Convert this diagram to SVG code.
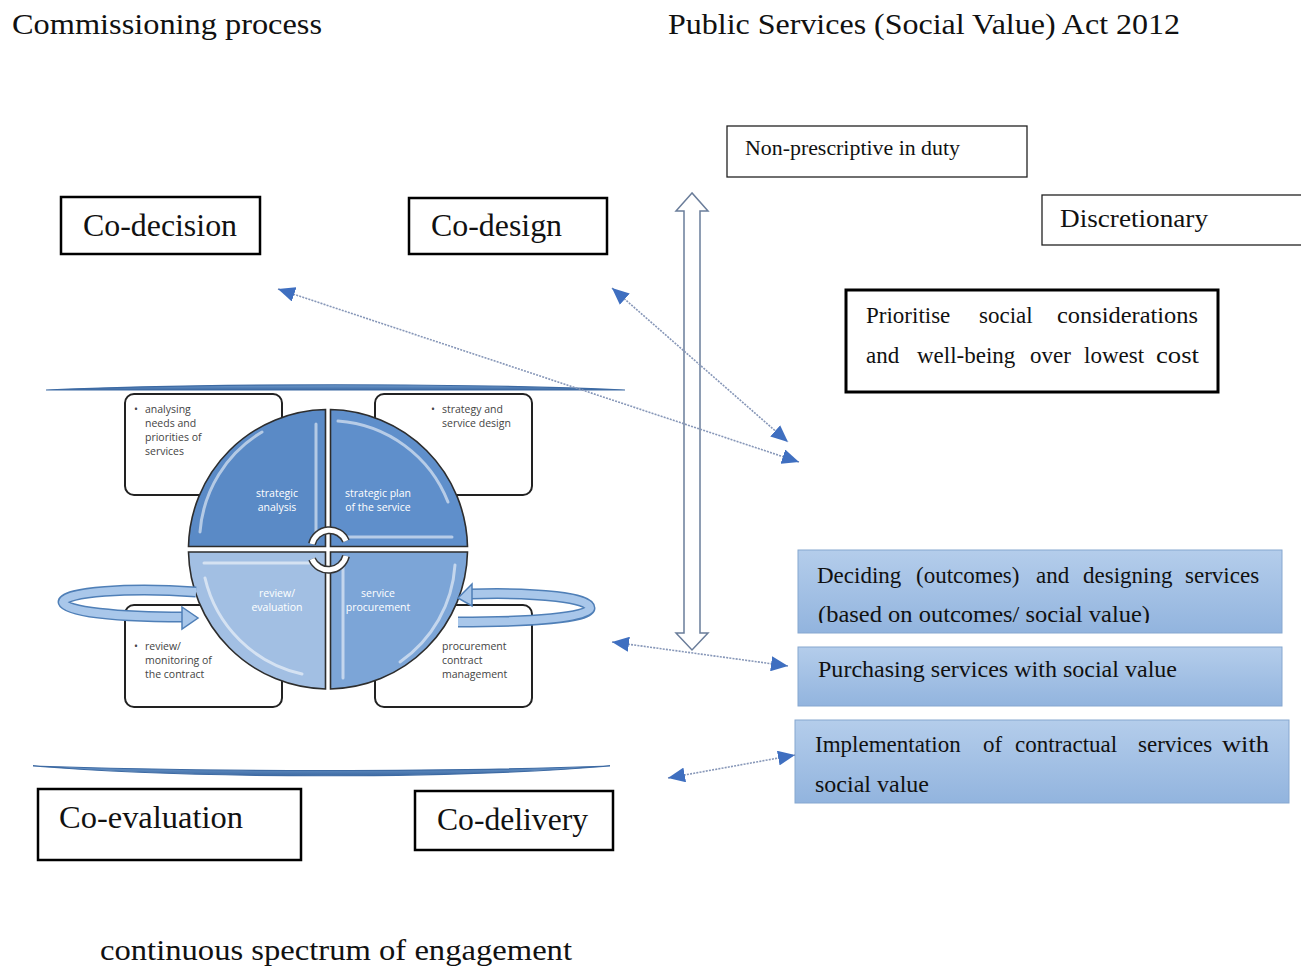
<svg xmlns="http://www.w3.org/2000/svg" width="1301" height="969" viewBox="0 0 1301 969">
<defs>
<style>
.serif{font-family:"Liberation Serif","Times New Roman",serif;fill:#111}
.small{font-family:"Open Sans","Liberation Sans",sans-serif;font-size:10.5px;fill:#444}
.qt{font-family:"Open Sans","Liberation Sans",sans-serif;font-size:10.5px;fill:#fff;text-anchor:middle}
.box{fill:#fff;stroke:#000;stroke-width:2.5}
.thin{fill:#fff;stroke:#222;stroke-width:1.3}
.rbox{fill:#fff;stroke:#222;stroke-width:2}
.blue{fill:url(#bg);stroke:#86a7d0;stroke-width:1}
.dot{fill:none;stroke:#8797b8;stroke-width:1.6;stroke-dasharray:2 1.2;marker-start:url(#ah);marker-end:url(#ah)}
.quad{stroke:#2d2d2d;stroke-width:1.6}
.hl{fill:none;stroke:#fff;stroke-opacity:0.55;stroke-width:3;stroke-linecap:round}
.rib{fill:none;stroke:#4f7fb7;stroke-width:11}
.ribin{fill:none;stroke:#a9c7ea;stroke-width:8}
</style>
<linearGradient id="bg" x1="0" y1="0" x2="0" y2="1">
<stop offset="0" stop-color="#b4cdeb"/>
<stop offset="1" stop-color="#92b4de"/>
</linearGradient>
<linearGradient id="lineg" x1="0" y1="0" x2="0" y2="1">
<stop offset="0" stop-color="#6f9bcd"/>
<stop offset="1" stop-color="#3d6aa3"/>
</linearGradient>
<marker id="ah" markerUnits="userSpaceOnUse" markerWidth="17" markerHeight="15" refX="17" refY="7.5" orient="auto-start-reverse">
<path d="M0,0 L17,7.5 L0,15 z" fill="#3f6fc0"/>
</marker>
<clipPath id="clipDec"><rect x="798" y="550" width="484" height="73"/></clipPath>
</defs>

<rect width="1301" height="969" fill="#fff"/>

<g id="titles">
<text class="serif" x="12" y="34" font-size="30" textLength="310" lengthAdjust="spacingAndGlyphs">Commissioning process</text>
<text class="serif" x="668" y="34" font-size="30" textLength="512" lengthAdjust="spacingAndGlyphs">Public Services (Social Value) Act 2012</text>
<text class="serif" x="100" y="960" font-size="30" textLength="472" lengthAdjust="spacingAndGlyphs">continuous spectrum of engagement</text>
</g>

<g id="co-decision">
<rect class="box" x="61" y="197" width="199" height="57"/>
<text class="serif" x="83" y="236" font-size="31" textLength="154" lengthAdjust="spacingAndGlyphs">Co-decision</text>
</g>
<g id="co-design">
<rect class="box" x="409" y="198" width="198" height="56"/>
<text class="serif" x="431" y="236" font-size="31" textLength="131" lengthAdjust="spacingAndGlyphs">Co-design</text>
</g>
<g id="co-evaluation">
<rect class="box" x="38" y="789" width="263" height="71"/>
<text class="serif" x="59" y="828" font-size="31" textLength="184" lengthAdjust="spacingAndGlyphs">Co-evaluation</text>
</g>
<g id="co-delivery">
<rect class="box" x="415" y="791" width="198" height="59"/>
<text class="serif" x="437" y="830" font-size="31" textLength="151" lengthAdjust="spacingAndGlyphs">Co-delivery</text>
</g>

<g id="non-prescriptive">
<rect class="thin" x="727" y="126" width="300" height="51"/>
<text class="serif" x="745" y="155" font-size="21" textLength="215" lengthAdjust="spacingAndGlyphs">Non-prescriptive in duty</text>
</g>
<g id="discretionary">
<rect class="thin" x="1042" y="195" width="262" height="50"/>
<text class="serif" x="1060" y="227" font-size="26" textLength="148" lengthAdjust="spacingAndGlyphs">Discretionary</text>
</g>
<g id="prioritise">
<rect x="846" y="290" width="372" height="102" fill="#fff" stroke="#000" stroke-width="3"/>
<text class="serif" y="323" font-size="23"><tspan x="866">Prioritise</tspan><tspan x="979">social</tspan><tspan x="1057" textLength="141" lengthAdjust="spacingAndGlyphs">considerations</tspan></text>
<text class="serif" y="363" font-size="23"><tspan x="866">and</tspan><tspan x="917">well-being</tspan><tspan x="1030">over</tspan><tspan x="1084">lowest</tspan><tspan x="1156" textLength="43" lengthAdjust="spacingAndGlyphs">cost</tspan></text>
</g>

<g id="deciding">
<rect class="blue" x="798" y="550" width="484" height="83"/>
<g clip-path="url(#clipDec)">
<text class="serif" y="583" font-size="23"><tspan x="817">Deciding</tspan><tspan x="916">(outcomes)</tspan><tspan x="1036">and</tspan><tspan x="1083">designing</tspan><tspan x="1185">services</tspan></text>
<text class="serif" x="818" y="622" font-size="23" textLength="332" lengthAdjust="spacingAndGlyphs">(based on outcomes/ social value)</text>
</g>
</g>
<g id="purchasing">
<rect class="blue" x="798" y="647" width="484" height="59"/>
<text class="serif" x="818" y="677" font-size="23" textLength="359" lengthAdjust="spacingAndGlyphs">Purchasing services with social value</text>
</g>
<g id="implementation">
<rect class="blue" x="795" y="720" width="494" height="83"/>
<text class="serif" y="752" font-size="23"><tspan x="815">Implementation</tspan><tspan x="983">of</tspan><tspan x="1015">contractual</tspan><tspan x="1138">services</tspan><tspan x="1222" textLength="47" lengthAdjust="spacingAndGlyphs">with</tspan></text>
<text class="serif" x="815" y="792" font-size="23" textLength="114" lengthAdjust="spacingAndGlyphs">social value</text>
</g>

<g id="spectrum-lines">
<path d="M46 390 C200 383 470 383 625 390 C470 390 200 390 46 390 Z" fill="url(#lineg)" stroke="#3d6aa3" stroke-width="1.2"/>
<path d="M33 766 C200 772 450 772 610 766 C450 779 200 779 33 766 Z" fill="url(#lineg)" stroke="#3d6aa3" stroke-width="1.2"/>
</g>

<g id="stage-boxes">
<rect class="rbox" x="125" y="394" width="157" height="101" rx="9"/>
<rect class="rbox" x="375" y="394" width="157" height="101" rx="9"/>
<rect class="rbox" x="125" y="605" width="157" height="102" rx="9"/>
<rect class="rbox" x="375" y="605" width="157" height="102" rx="9"/>
<text class="small"><tspan x="134" y="413">•</tspan><tspan x="145" y="413">analysing</tspan><tspan x="145" y="427">needs and</tspan><tspan x="145" y="441">priorities of</tspan><tspan x="145" y="455">services</tspan></text>
<text class="small"><tspan x="431" y="413">•</tspan><tspan x="442" y="413">strategy and</tspan><tspan x="442" y="427">service design</tspan></text>
<text class="small"><tspan x="134" y="650">•</tspan><tspan x="145" y="650">review/</tspan><tspan x="145" y="664">monitoring of</tspan><tspan x="145" y="678">the contract</tspan></text>
<text class="small"><tspan x="442" y="650">procurement</tspan><tspan x="442" y="664">contract</tspan><tspan x="442" y="678">management</tspan></text>
</g>

<g id="cycle">
<path class="quad" fill="#5a8ac6" d="M325.5 546.5 L325.5 409.5 A140 140 0 0 0 188.5 546.5 Z"/>
<path class="quad" fill="#5f8fcb" d="M330.5 546.5 L330.5 409.5 A140 140 0 0 1 467.5 546.5 Z"/>
<path class="quad" fill="#a2bfe3" d="M325.5 552 L325.5 689 A140 140 0 0 1 188.5 552 Z"/>
<path class="quad" fill="#7ca5d7" d="M330.5 552 L330.5 689 A140 140 0 0 0 467.5 552 Z"/>
<path class="hl" d="M316 424 L316 536"/>
<path class="hl" d="M200 532 A128 128 0 0 1 262 432"/>
<path class="hl" d="M338 421 A128 128 0 0 1 448 502"/>
<path class="hl" d="M344 537 L452 537"/>
<path class="hl" d="M204 563 L312 563"/>
<path class="hl" d="M205 578 A128 128 0 0 0 302 674"/>
<path class="hl" d="M343 566 L343 678"/>
<path class="hl" d="M455 565 A128 128 0 0 1 400 662"/>
<text class="qt" x="277" y="497">strategic</text>
<text class="qt" x="277" y="511">analysis</text>
<text class="qt" x="378" y="497">strategic plan</text>
<text class="qt" x="378" y="511">of the service</text>
<text class="qt" x="277" y="597">review/</text>
<text class="qt" x="277" y="611">evaluation</text>
<text class="qt" x="378" y="597">service</text>
<text class="qt" x="378" y="611">procurement</text>
<path d="M312 544 A18 18 0 0 1 346 541" fill="none" stroke="#333" stroke-width="8"/>
<path d="M312 544 A18 18 0 0 1 346 541" fill="none" stroke="#fff" stroke-width="5"/>
<path d="M346 556 A18 18 0 0 1 312 559" fill="none" stroke="#333" stroke-width="8"/>
<path d="M346 556 A18 18 0 0 1 312 559" fill="none" stroke="#fff" stroke-width="5"/>
</g>

<g id="ribbons">
<path class="rib" d="M196 592 C130 587 63 592 63 602 C63 612 120 617 184 617"/>
<path class="ribin" d="M196 592 C130 587 63 592 63 602 C63 612 120 617 184 617"/>
<path d="M182 607 L198 618 L182 629 Z" fill="#a9c7ea" stroke="#4f7fb7" stroke-width="1.5"/>
<path class="rib" d="M470 594 C540 592 590 598 590 608 C590 618 530 622 458 622"/>
<path class="ribin" d="M470 594 C540 592 590 598 590 608 C590 618 530 622 458 622"/>
<path d="M472 584 L458 598 L472 606 Z" fill="#a9c7ea" stroke="#4f7fb7" stroke-width="1.5"/>
</g>

<g id="connectors">
<path d="M692 193 L676 211 L684 211 L684 633 L676 633 L692 650 L708 633 L700 633 L700 211 L708 211 Z" fill="#fff" stroke="#6a7d9a" stroke-width="1.5"/>
<line class="dot" x1="278" y1="289" x2="799" y2="462"/>
<line class="dot" x1="612" y1="288" x2="788" y2="442"/>
<line class="dot" x1="612" y1="642" x2="788" y2="666"/>
<line class="dot" x1="668" y1="778" x2="795" y2="755"/>
</g>
</svg>
